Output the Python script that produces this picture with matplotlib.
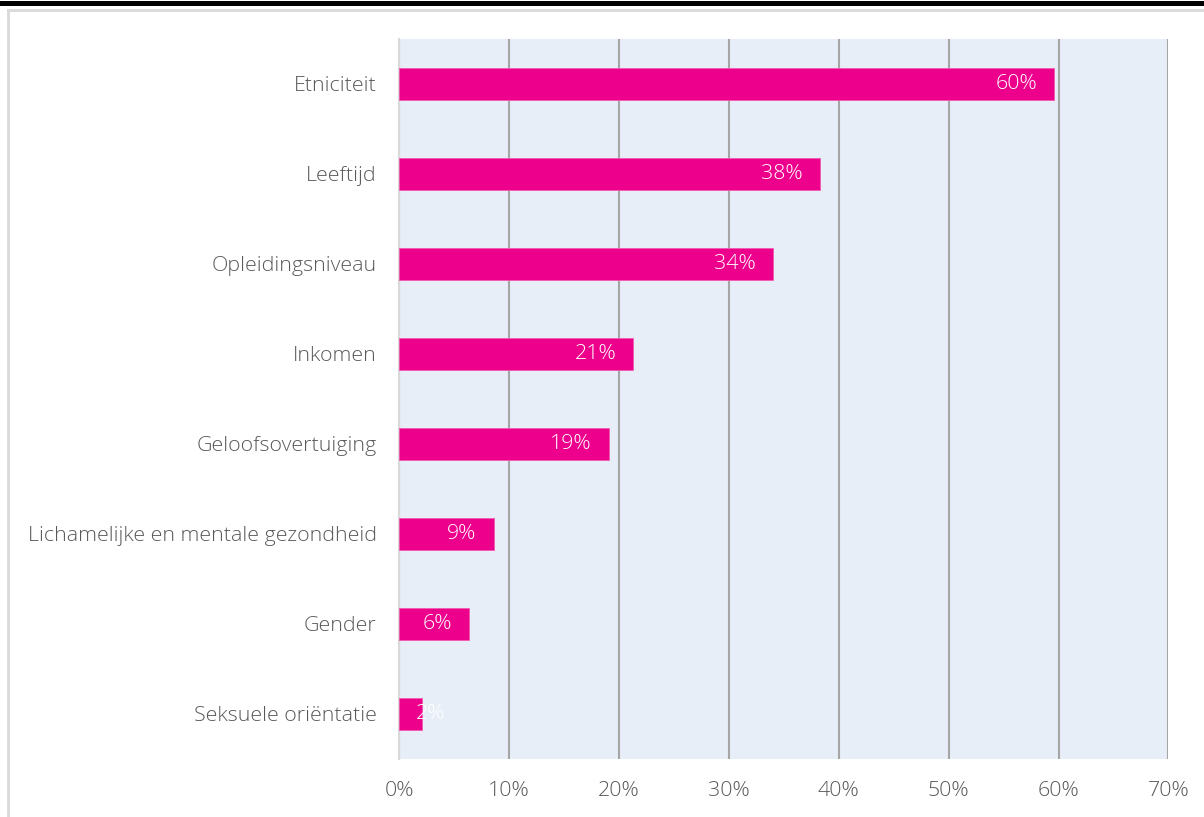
import numpy as np
import matplotlib.pyplot as plt
from matplotlib.lines import Line2D

categories = [
    'Etniciteit',
    'Leeftijd',
    'Opleidingsniveau',
    'Inkomen',
    'Geloofsovertuiging',
    'Lichamelijke en mentale gezondheid',
    'Gender',
    'Seksuele oriëntatie',
]
values = [59.6, 38.3, 34.0, 21.3, 19.1, 8.6, 6.4, 2.1]
xticks = [0, 10, 20, 30, 40, 50, 60, 70]

plt.rcParams['font.family'] = ['Open Sans', 'DejaVu Sans']
text_col = '#595959'
fs = 15.4

fig = plt.figure(figsize=(12.04, 8.17), dpi=100)
ax = fig.add_axes([0.3314, 0.0710, 0.6391, 0.8813])
ax.set_facecolor('#E7EEF8')

y = np.arange(len(categories))
ax.barh(y, values, height=0.355, color='#EC008C', edgecolor='#F25AAE',
        linewidth=0.6, zorder=3)

# value labels sit inside the bar end; tiny bars get them from the start
for yi, v in zip(y, values):
    lab = f'{v:.0f}%'
    if v < 5:
        ax.annotate(lab, (0, yi), xytext=(17, 0), textcoords='offset pixels',
                    ha='left', va='center', color='white', fontsize=fs,
                    fontweight='light', zorder=4)
    else:
        ax.annotate(lab, (v, yi), xytext=(-17, 0), textcoords='offset pixels',
                    ha='right', va='center', color='white', fontsize=fs,
                    fontweight='light', zorder=4)

ax.set_xlim(0, 70)
ax.set_ylim(len(categories) - 0.5, -0.5)
ax.set_xticks(xticks)
ax.set_xticklabels([f'{t}%' for t in xticks])
ax.set_yticks(y)
ax.set_yticklabels(categories)
ax.tick_params(length=0, labelsize=fs, colors=text_col, pad=16)
for lab in ax.get_xticklabels() + ax.get_yticklabels():
    lab.set_fontweight('light')

ax.xaxis.grid(True, color='#A6A6A6', linewidth=1.5, zorder=1)
ax.set_axisbelow(True)
for s in ['top', 'right', 'bottom']:
    ax.spines[s].set_visible(False)
ax.spines['left'].set_color('#D9D9D9')
ax.spines['left'].set_linewidth(1.5)

# outer frame: heavy rule on top, thin grey border below it and on the left
fig.add_artist(Line2D([0, 1], [1 - 2.5 / 817] * 2, color='black', linewidth=3.6))
fig.add_artist(Line2D([8 / 1204, 1], [1 - 9.5 / 817] * 2, color='#D9D9D9', linewidth=2))
fig.add_artist(Line2D([8 / 1204] * 2, [0, 1 - 9.5 / 817], color='#D9D9D9', linewidth=2))

fig.savefig('out.png', dpi=100)
